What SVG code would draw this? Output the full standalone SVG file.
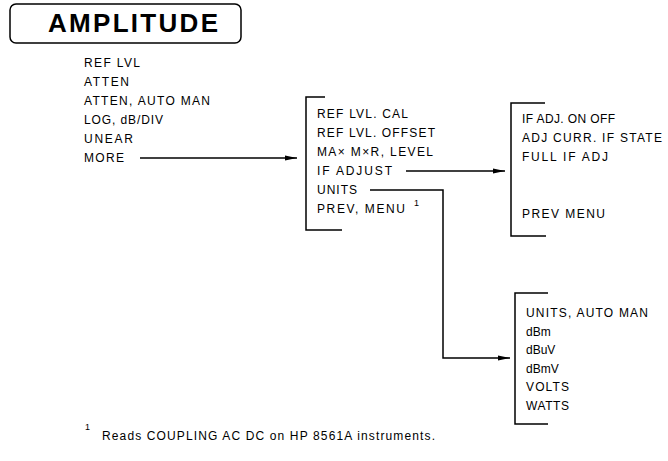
<svg xmlns="http://www.w3.org/2000/svg" width="668" height="461" viewBox="0 0 668 461">
<defs>
<style>
.t{font-family:"Liberation Sans",Arial,sans-serif;font-size:12px;fill:#000}
.ttl{font-family:"Liberation Sans",Arial,sans-serif;font-size:26px;font-weight:bold;fill:#000}
.sup{font-family:"Liberation Sans",Arial,sans-serif;font-size:9px;fill:#000}
.ln{fill:none;stroke:#000;stroke-width:1.5}
</style>
<marker id="ah" viewBox="0 0 12 6" refX="12" refY="3" markerWidth="12" markerHeight="6" markerUnits="userSpaceOnUse" orient="auto">
<path d="M0,0.5 L12,3 L0,5.5 z" fill="#000"/>
</marker>
</defs>
<rect width="668" height="461" fill="#fff"/>
<g id="title">
<rect x="10" y="4" width="231" height="39" rx="6" class="ln"/>
<text x="48" y="32" class="ttl" textLength="170" lengthAdjust="spacing">AMPLITUDE</text>
</g>
<g id="menu-amplitude">
<text x="84" y="67" class="t" textLength="56" lengthAdjust="spacing">REF LVL</text>
<text x="84" y="86" class="t" textLength="45" lengthAdjust="spacing">ATTEN</text>
<text x="84" y="105" class="t" textLength="126" lengthAdjust="spacing">ATTEN, AUTO MAN</text>
<text x="84" y="124" class="t" textLength="79" lengthAdjust="spacing">LOG, dB/DIV</text>
<text x="84" y="143" class="t" textLength="49" lengthAdjust="spacing">UNEAR</text>
<text x="84" y="162" class="t" textLength="40" lengthAdjust="spacing">MORE</text>
</g>
<g id="menu-more">
<path d="M325,97 H306 V230 H342" class="ln"/>
<text x="317" y="118" class="t" textLength="91" lengthAdjust="spacing">REF LVL. CAL</text>
<text x="317" y="137" class="t" textLength="118" lengthAdjust="spacing">REF LVL. OFFSET</text>
<text x="317" y="156" class="t" textLength="116" lengthAdjust="spacing">MA× M×R, LEVEL</text>
<text x="317" y="175" class="t" textLength="75" lengthAdjust="spacing">IF ADJUST</text>
<text x="317" y="194" class="t" textLength="40" lengthAdjust="spacing">UNITS</text>
<text x="317" y="213" class="t" textLength="88" lengthAdjust="spacing">PREV, MENU</text>
<text x="414" y="206" class="sup">1</text>
</g>
<g id="menu-if-adjust">
<path d="M545,103 H511 V236 H546" class="ln"/>
<text x="522" y="123" class="t" textLength="93" lengthAdjust="spacing">IF ADJ. ON OFF</text>
<text x="522" y="142" class="t" textLength="140" lengthAdjust="spacing">ADJ CURR. IF STATE</text>
<text x="522" y="161" class="t" textLength="86" lengthAdjust="spacing">FULL IF ADJ</text>
<text x="522" y="218" class="t" textLength="83" lengthAdjust="spacing">PREV MENU</text>
</g>
<g id="menu-units">
<path d="M548,293 H515 V424 H548" class="ln"/>
<text x="526" y="317" class="t" textLength="122" lengthAdjust="spacing">UNITS, AUTO MAN</text>
<text x="526" y="335.5" class="t">dBm</text>
<text x="526" y="354" class="t">dBuV</text>
<text x="526" y="372.5" class="t">dBmV</text>
<text x="526" y="391" class="t" textLength="43" lengthAdjust="spacing">VOLTS</text>
<text x="526" y="409.5" class="t" textLength="43" lengthAdjust="spacing">WATTS</text>
</g>
<g id="connectors">
<path d="M140,158 H297" class="ln" marker-end="url(#ah)"/>
<path d="M406,171 H505" class="ln" marker-end="url(#ah)"/>
<path d="M370,190 H443 V358 H510" class="ln" marker-end="url(#ah)"/>
</g>
<g id="footnote">
<text x="85" y="430" class="sup">1</text>
<text x="102" y="440" class="t" font-size="10.5" textLength="333" lengthAdjust="spacing">Reads COUPLING AC DC on HP 8561A instruments.</text>
</g>
</svg>
